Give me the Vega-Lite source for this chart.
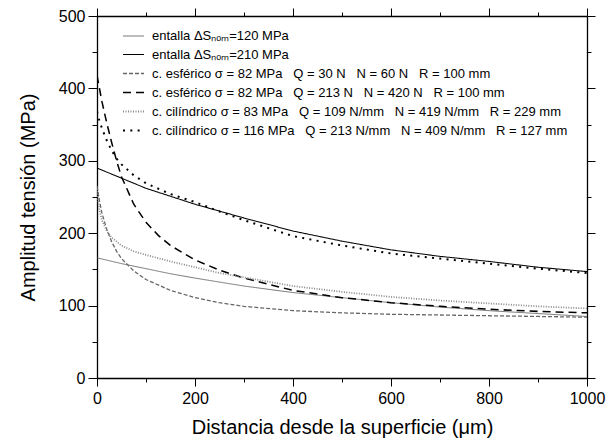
{
  "$schema": "https://vega.github.io/schema/vega-lite/v6.json",
  "width": 490,
  "height": 362,
  "autosize": "none",
  "padding": {"left": 97, "top": 16, "right": 21, "bottom": 65},
  "background": "white",
  "config": {"font": "Liberation Sans", "view": {"stroke": null}},
  "data": {"values": [
    {"s":"a","x":0,"y":166},{"s":"a","x":50,"y":158},{"s":"a","x":100,"y":151},{"s":"a","x":150,"y":144},{"s":"a","x":200,"y":138},{"s":"a","x":300,"y":127},{"s":"a","x":400,"y":118},{"s":"a","x":500,"y":111},{"s":"a","x":600,"y":104},{"s":"a","x":700,"y":98},{"s":"a","x":800,"y":93},{"s":"a","x":900,"y":89},{"s":"a","x":1000,"y":85},
    {"s":"b","x":0,"y":290},{"s":"b","x":50,"y":276},{"s":"b","x":100,"y":262},{"s":"b","x":150,"y":251},{"s":"b","x":200,"y":240},{"s":"b","x":300,"y":221},{"s":"b","x":400,"y":203},{"s":"b","x":500,"y":189},{"s":"b","x":600,"y":177},{"s":"b","x":700,"y":168},{"s":"b","x":800,"y":161},{"s":"b","x":900,"y":153},{"s":"b","x":1000,"y":147},
    {"s":"c","x":0,"y":265},{"s":"c","x":5,"y":245},{"s":"c","x":10,"y":228},{"s":"c","x":20,"y":205},{"s":"c","x":30,"y":188},{"s":"c","x":40,"y":175},{"s":"c","x":50,"y":165},{"s":"c","x":75,"y":148},{"s":"c","x":100,"y":136},{"s":"c","x":150,"y":121},{"s":"c","x":200,"y":111},{"s":"c","x":250,"y":104},{"s":"c","x":300,"y":99},{"s":"c","x":400,"y":93},{"s":"c","x":500,"y":90},{"s":"c","x":600,"y":88},{"s":"c","x":700,"y":87},{"s":"c","x":800,"y":86},{"s":"c","x":900,"y":85},{"s":"c","x":1000,"y":84},
    {"s":"d","x":0,"y":418},{"s":"d","x":5,"y":400},{"s":"d","x":10,"y":382},{"s":"d","x":20,"y":352},{"s":"d","x":30,"y":325},{"s":"d","x":40,"y":300},{"s":"d","x":50,"y":278},{"s":"d","x":75,"y":240},{"s":"d","x":100,"y":215},{"s":"d","x":125,"y":197},{"s":"d","x":150,"y":183},{"s":"d","x":200,"y":163},{"s":"d","x":250,"y":149},{"s":"d","x":300,"y":138},{"s":"d","x":400,"y":121},{"s":"d","x":500,"y":111},{"s":"d","x":600,"y":104},{"s":"d","x":700,"y":99},{"s":"d","x":800,"y":95},{"s":"d","x":900,"y":92},{"s":"d","x":1000,"y":90},
    {"s":"e","x":0,"y":258},{"s":"e","x":5,"y":232},{"s":"e","x":10,"y":218},{"s":"e","x":20,"y":203},{"s":"e","x":30,"y":194},{"s":"e","x":50,"y":183},{"s":"e","x":75,"y":175},{"s":"e","x":100,"y":170},{"s":"e","x":150,"y":161},{"s":"e","x":200,"y":153},{"s":"e","x":250,"y":145},{"s":"e","x":300,"y":139},{"s":"e","x":400,"y":127},{"s":"e","x":500,"y":119},{"s":"e","x":600,"y":112},{"s":"e","x":700,"y":107},{"s":"e","x":800,"y":103},{"s":"e","x":900,"y":99},{"s":"e","x":1000,"y":96},
    {"s":"f","x":0,"y":368},{"s":"f","x":5,"y":355},{"s":"f","x":10,"y":345},{"s":"f","x":20,"y":328},{"s":"f","x":30,"y":314},{"s":"f","x":40,"y":303},{"s":"f","x":50,"y":295},{"s":"f","x":75,"y":280},{"s":"f","x":100,"y":269},{"s":"f","x":150,"y":254},{"s":"f","x":200,"y":243},{"s":"f","x":250,"y":230},{"s":"f","x":300,"y":218},{"s":"f","x":400,"y":196},{"s":"f","x":500,"y":183},{"s":"f","x":600,"y":172},{"s":"f","x":700,"y":165},{"s":"f","x":800,"y":158},{"s":"f","x":900,"y":151},{"s":"f","x":1000,"y":145}
  ]},
  "layer": [
    {
      "mark": {"type": "line", "clip": true, "strokeCap": "butt"},
      "encoding": {
        "x": {"field": "x", "type": "quantitative", "scale": {"domain": [0, 1000], "nice": false},
          "axis": {"orient": "bottom", "values": [0,100,200,300,400,500,600,700,800,900,1000], "format": "d",
            "labelExpr": "datum.value % 200 === 0 ? datum.label : ''",
            "tickSize": {"condition": {"test": "datum.value % 200 === 0", "value": 8}, "value": 4},
            "grid": false, "domainColor": "black", "domainWidth": 1.3, "tickColor": "black", "tickWidth": 1,
            "labelFontSize": 16, "labelColor": "black", "labelPadding": 4, "labelFlush": false, "labelOverlap": false,
            "title": "Distancia desde la superficie (μm)", "titleFontSize": 20, "titleFontWeight": "normal", "titleColor": "black", "titlePadding": 11}},
        "y": {"field": "y", "type": "quantitative", "scale": {"domain": [0, 500], "nice": false},
          "axis": {"orient": "left", "values": [0,50,100,150,200,250,300,350,400,450,500],
            "labelExpr": "datum.value % 100 === 0 ? datum.label : ''",
            "tickSize": {"condition": {"test": "datum.value % 100 === 0", "value": 9}, "value": 5},
            "grid": false, "domainColor": "black", "domainWidth": 1.3, "tickColor": "black", "tickWidth": 1,
            "labelFontSize": 16, "labelColor": "black", "labelPadding": 3, "labelFlush": false, "labelOverlap": false,
            "title": "Amplitud tensión (MPa)", "titleFontSize": 20, "titleFontWeight": "normal", "titleColor": "black", "titlePadding": 20}},
        "color": {"field": "s", "type": "nominal",
          "scale": {"domain": ["a","b","c","d","e","f"], "range": ["#555555","#000000","#666666","#000000","#888888","#000000"]},
          "legend": {"orient": "none", "legendX": 25, "legendY": 9, "title": null, "symbolType": "stroke", "symbolSize": 440,
            "labelFontSize": 13, "labelColor": "black", "labelLimit": 700, "rowPadding": 0, "labelOffset": 7,
            "labelExpr": "datum.label === 'a' ? 'entalla ΔSₙₒₘ=120 MPa' : datum.label === 'b' ? 'entalla ΔSₙₒₘ=210 MPa' : datum.label === 'c' ? 'c. esférico σ = 82 MPa\u00a0\u00a0\u00a0Q = 30 N\u00a0\u00a0\u00a0N = 60 N\u00a0\u00a0\u00a0R = 100 mm' : datum.label === 'd' ? 'c. esférico σ = 82 MPa\u00a0\u00a0\u00a0Q = 213 N\u00a0\u00a0\u00a0N = 420 N\u00a0\u00a0\u00a0R = 100 mm' : datum.label === 'e' ? 'c. cilíndrico σ = 83 MPa\u00a0\u00a0\u00a0Q = 109 N/mm\u00a0\u00a0\u00a0N = 419 N/mm\u00a0\u00a0\u00a0R = 229 mm' : 'c. cilíndrico σ = 116 MPa\u00a0\u00a0\u00a0Q = 213 N/mm\u00a0\u00a0\u00a0N = 409 N/mm\u00a0\u00a0\u00a0R = 127 mm'"}},
        "strokeDash": {"field": "s", "type": "nominal",
          "scale": {"domain": ["a","b","c","d","e","f"], "range": [[1,0],[1,0],[4,2],[8,5],[1,1.5],[2,5.3]]}},
        "strokeWidth": {"field": "s", "type": "nominal",
          "scale": {"domain": ["a","b","c","d","e","f"], "range": [0.8,2,0.8,2,0.8,2.2]}}
      }
    },
    {
      "mark": {"type": "point", "opacity": 0},
      "encoding": {
        "x": {"field": "x", "type": "quantitative",
          "axis": {"orient": "top", "values": [0,100,200,300,400,500,600,700,800,900,1000], "labels": false, "title": null,
            "tickSize": {"condition": {"test": "datum.value % 200 === 0", "value": 8}, "value": 4},
            "grid": false, "domainColor": "black", "domainWidth": 1.3, "tickColor": "black", "tickWidth": 1}},
        "y": {"field": "y", "type": "quantitative",
          "axis": {"orient": "right", "values": [0,50,100,150,200,250,300,350,400,450,500], "labels": false, "title": null,
            "tickSize": {"condition": {"test": "datum.value % 100 === 0", "value": 8}, "value": 4},
            "grid": false, "domainColor": "black", "domainWidth": 1.3, "tickColor": "black", "tickWidth": 1}}
      }
    }
  ],
  "resolve": {"axis": {"x": "independent", "y": "independent"}}
}
